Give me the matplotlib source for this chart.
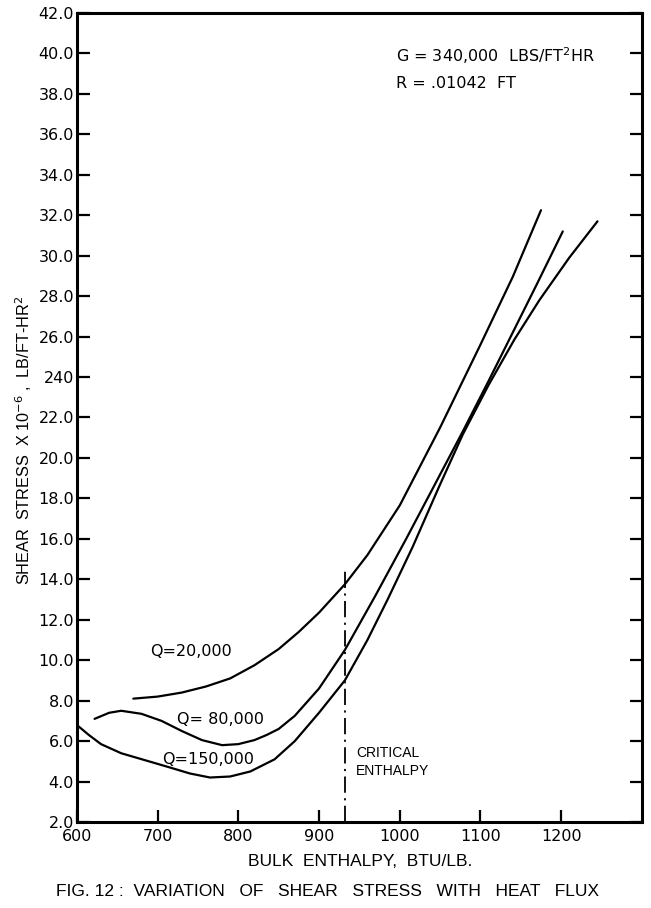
import matplotlib
matplotlib.use('Agg')
import matplotlib.pyplot as plt

# values (bulk enthalpy BTU/lb, shear stress x1e-6)
q20_x = [670, 700, 730, 760, 790, 820, 850, 875, 900, 932, 960, 1000, 1050, 1100, 1140, 1175]
q20_y = [8.1, 8.2, 8.4, 8.7, 9.1, 9.75, 10.55, 11.4, 12.35, 13.75, 15.2, 17.65, 21.5, 25.6, 28.95, 32.25]

q80_x = [622, 640, 655, 680, 705, 730, 755, 780, 800, 820, 835, 850, 870, 900, 932, 970, 1008,
         1045, 1078, 1110, 1140, 1170, 1202]
q80_y = [7.1, 7.4, 7.5, 7.35, 7.0, 6.5, 6.05, 5.8, 5.85, 6.05, 6.3, 6.6, 7.25, 8.6, 10.5, 13.2, 16.0,
         18.8, 21.3, 23.8, 26.2, 28.6, 31.2]

q150_x = [600, 615, 630, 655, 685, 715, 740, 765, 790, 815, 845, 870, 900, 932, 960, 985, 1016,
          1049, 1078, 1110, 1142, 1173, 1210, 1245]
q150_y = [6.8, 6.3, 5.85, 5.4, 5.05, 4.7, 4.4, 4.2, 4.25, 4.5, 5.1, 6.0, 7.4, 9.0, 11.0, 13.0, 15.6,
          18.6, 21.15, 23.6, 25.85, 27.8, 29.9, 31.7]

critical_enthalpy = 932
critical_top = 14.5

x_ticks = [600, 700, 800, 900, 1000, 1100, 1200]
y_ticks = list(range(2, 43, 2))
y_ticklabels = ['%.1f' % v for v in y_ticks]
y_ticklabels[y_ticks.index(24)] = '240'  # as printed on the original

plt.rcParams['font.family'] = ['DejaVu Sans']

fig = plt.figure(figsize=(6.51, 9.08), dpi=100)
ax = fig.add_axes([0.118, 0.0947, 0.868, 0.891])

for xs, ys in [(q20_x, q20_y), (q80_x, q80_y), (q150_x, q150_y)]:
    ax.plot(xs, ys, color='black', lw=1.6, solid_capstyle='round', solid_joinstyle='round')

ax.plot([critical_enthalpy, critical_enthalpy], [2, critical_top], color='black', lw=1.3,
        linestyle=(0, (9, 3, 1.2, 3)))

ax.set_xlim(600, 1300)
ax.set_ylim(2, 42)
ax.set_xticks(x_ticks)
ax.set_xticklabels([str(v) for v in x_ticks])
ax.set_yticks(y_ticks)
ax.set_yticklabels(y_ticklabels)
ax.tick_params(axis='both', direction='in', length=9, width=1.6, labelsize=11.5, pad=2)
ax.tick_params(axis='x', pad=5)
ax.tick_params(axis='y', right=True)
for s in ax.spines.values():
    s.set_linewidth(2.2)

lbl = dict(fontsize=11.5, color='black')
ax.text(742, 10.45, 'Q=20,000', ha='center', va='center', **lbl)
ax.text(778, 7.05, 'Q= 80,000', ha='center', va='center', **lbl)
ax.text(763, 5.1, 'Q=150,000', ha='center', va='center', **lbl)
ax.text(946, 4.95, 'CRITICAL\nENTHALPY', ha='left', va='center', fontsize=10,
        family='Liberation Sans', linespacing=1.35)
ax.text(996, 39.9, 'G = 340,000  LBS/FT$^2$HR', ha='left', va='center', fontsize=11.5)
ax.text(996, 38.5, 'R = .01042  FT', ha='left', va='center', fontsize=11.5)

fig.text(24 / 651, 1 - 440 / 908, 'SHEAR  STRESS  X 10$^{-6}$ ,  LB/FT-HR$^{2}$',
         rotation=90, ha='center', va='center', fontsize=11.7, family='Liberation Sans')
fig.text(360 / 651, 1 - 862 / 908, 'BULK  ENTHALPY,  BTU/LB.', ha='center', va='center',
         fontsize=12.5, family='Liberation Sans')
fig.text(328 / 651, 1 - 892 / 908, 'FIG. 12 :  VARIATION   OF   SHEAR   STRESS   WITH   HEAT   FLUX',
         ha='center', va='center', fontsize=12.5, family='Liberation Sans')

fig.savefig('out.png', dpi=100)
